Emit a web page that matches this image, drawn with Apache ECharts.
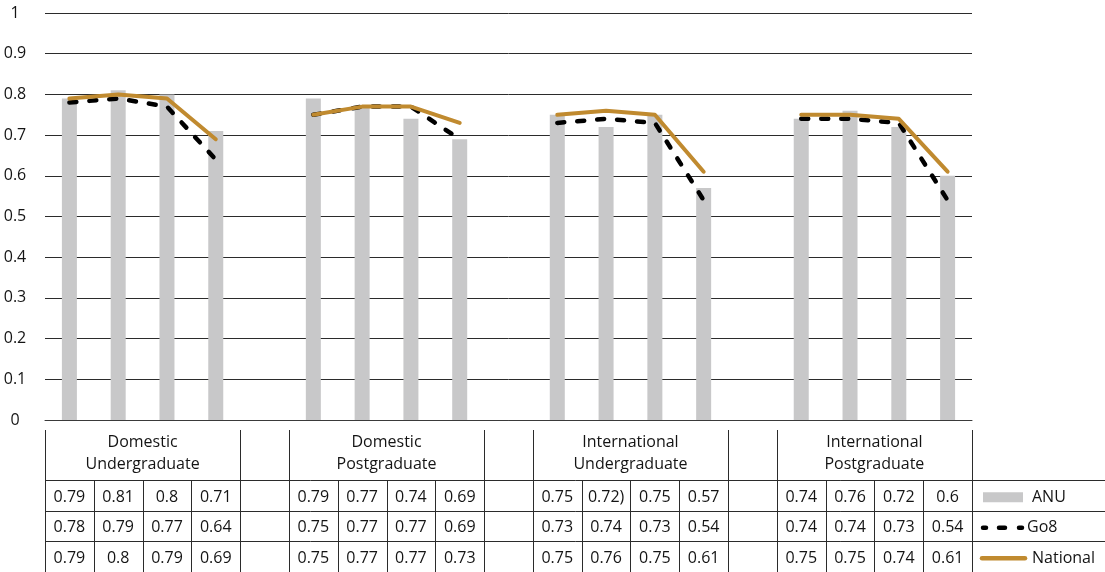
<!DOCTYPE html>
<html>
<head>
<meta charset="utf-8">
<script src="https://cdn.jsdelivr.net/npm/echarts@6/dist/echarts.min.js"></script>
<style>
  html, body { margin: 0; padding: 0; background: #ffffff; }
  #chart { width: 1105px; height: 572px; }
</style>
</head>
<body>
<div id="chart"></div>
<script>
// Student groups, each with four survey items
const groups = [
  'Domestic\nUndergraduate',
  'Domestic\nPostgraduate',
  'International\nUndergraduate',
  'International\nPostgraduate'
];
const itemsPerGroup = 4;

// Scores for each series, four per group in group order
const anu      = [0.79, 0.81, 0.8, 0.71,  0.79, 0.77, 0.74, 0.69,  0.75, 0.72, 0.75, 0.57,  0.74, 0.76, 0.72, 0.6];
const go8      = [0.78, 0.79, 0.77, 0.64, 0.75, 0.77, 0.77, 0.69,  0.73, 0.74, 0.73, 0.54,  0.74, 0.74, 0.73, 0.54];
const national = [0.79, 0.8, 0.79, 0.69,  0.75, 0.77, 0.77, 0.73,  0.75, 0.76, 0.75, 0.61,  0.75, 0.75, 0.74, 0.61];

const seriesNames = ['ANU', 'Go8', 'National'];

// Table cell text as printed in the data table (one cell carries a stray bracket)
const cellTextOverrides = { 'ANU:9': '0.72)' };

// Y axis ticks
const yMin = 0, yMax = 1, yStep = 0.1;

const FONT = '"Open Sans", "Liberation Sans", sans-serif';
const FS = 16;
const TEXT = '#141414';
const GOLD = '#C08A2F';
const BAR = '#C8C8C9';
const RULE = '#2b2b2b';

// Slots on the category axis: four items per group, with a blank spacer between groups
const slots = [];
const slotOfItem = [];
groups.forEach((g, gi) => {
  for (let k = 0; k < itemsPerGroup; k++) {
    slotOfItem.push(slots.length);
    slots.push(g + '#' + k);
  }
  if (gi < groups.length - 1) slots.push('gap' + gi);
});

function spread(values) {
  const out = slots.map(() => null);
  values.forEach((v, i) => { out[slotOfItem[i]] = v; });
  return out;
}

const chart = echarts.init(document.getElementById('chart'), null, { renderer: 'canvas' });

chart.setOption({
  animation: false,
  backgroundColor: '#ffffff',
  grid: { left: 45, right: 133, top: 13, bottom: 152, containLabel: false },
  xAxis: {
    type: 'category',
    data: slots,
    boundaryGap: true,
    axisLine: { show: true, lineStyle: { color: '#3a3a3a', width: 1 } },
    axisTick: { show: false },
    axisLabel: { show: false },
    splitLine: { show: false }
  },
  yAxis: {
    type: 'value',
    min: yMin, max: yMax, interval: yStep,
    axisLine: { show: false },
    axisTick: { show: false },
    axisLabel: {
      color: TEXT, fontFamily: FONT, fontSize: FS,
      align: 'center', margin: 30,
      formatter: v => String(Math.round(v * 10) / 10)
    },
    splitLine: { show: true, lineStyle: { color: RULE, width: 1 } }
  },
  series: [
    {
      name: 'ANU', type: 'bar', data: spread(anu), barWidth: 15,
      itemStyle: { color: BAR }, z: 2
    },
    {
      name: 'Go8', type: 'line', data: spread(go8), connectNulls: false,
      symbol: 'none',
      lineStyle: { color: '#000000', width: 4.5, type: [7, 13], cap: 'round', join: 'round' },
      z: 3
    },
    {
      name: 'National', type: 'line', data: spread(national), connectNulls: false,
      symbol: 'none',
      lineStyle: { color: GOLD, width: 4, cap: 'round', join: 'round' },
      z: 4
    }
  ]
});

// Data table under the plot, aligned to the category axis
function buildTable() {
  const cx = i => chart.convertToPixel({ xAxisIndex: 0 }, i);
  const band = cx(1) - cx(0);
  const edge = i => cx(0) - band / 2 + i * band; // left edge of slot i
  const axisY = chart.convertToPixel({ yAxisIndex: 0 }, yMin);
  const rightEdge = edge(slots.length);
  const W = chart.getWidth();

  const tableTop = Math.round(axisY) + 10;
  const headBottom = tableTop + 50;
  const rowH = 30.5;
  const rowLines = [0, 1, 2, 3].map(r => headBottom + r * rowH);

  const els = [];
  const line = (x1, y1, x2, y2) => els.push({
    type: 'line', silent: true,
    shape: { x1, y1, x2, y2 },
    style: { stroke: RULE, lineWidth: 1 }
  });
  const px = v => Math.round(v) + 0.5;

  // Horizontal rules
  rowLines.forEach(y => line(px(edge(0)), px(y), W, px(y)));

  // Group borders span the header and data rows; inner borders only the data rows
  const groupEdges = [];
  groups.forEach((g, gi) => {
    const first = slotOfItem[gi * itemsPerGroup];
    groupEdges.push(first, first + itemsPerGroup);
  });
  for (let i = 0; i <= slots.length; i++) {
    const x = px(edge(i));
    if (groupEdges.includes(i)) line(x, tableTop, x, px(rowLines[3]));
    else line(x, px(rowLines[0]), x, px(rowLines[3]));
  }

  // Group headers
  groups.forEach((g, gi) => {
    const first = slotOfItem[gi * itemsPerGroup];
    const mid = (edge(first) + edge(first + itemsPerGroup)) / 2;
    els.push({
      type: 'text', silent: true, x: mid, y: (tableTop + headBottom) / 2 - 2,
      style: {
        text: g, fill: TEXT, font: FS + 'px ' + FONT,
        align: 'center', verticalAlign: 'middle', lineHeight: 22
      }
    });
  });

  // Values
  [anu, go8, national].forEach((vals, r) => {
    const yMid = rowLines[r] + rowH / 2 + 2;
    vals.forEach((v, i) => {
      const key = seriesNames[r] + ':' + i;
      els.push({
        type: 'text', silent: true, x: cx(slotOfItem[i]), y: yMid,
        style: {
          text: cellTextOverrides[key] || String(v), fill: TEXT, font: FS + 'px ' + FONT,
          align: 'center', verticalAlign: 'middle'
        }
      });
    });
  });

  // Legend keys in the right-hand column
  const kx = rightEdge + 11;
  const keyY = r => rowLines[r] + rowH / 2 + 2;
  els.push({
    type: 'rect', silent: true,
    shape: { x: kx, y: keyY(0) - 5, width: 40, height: 10 },
    style: { fill: BAR }
  });
  els.push({
    type: 'line', silent: true,
    shape: { x1: kx, y1: keyY(1), x2: kx + 40, y2: keyY(1) },
    style: { stroke: '#000000', lineWidth: 4.5, lineCap: 'round', lineDash: [3, 13, 6, 14] }
  });
  els.push({
    type: 'line', silent: true,
    shape: { x1: kx - 1, y1: keyY(2), x2: kx + 42, y2: keyY(2) },
    style: { stroke: GOLD, lineWidth: 4.5, lineCap: 'round' }
  });
  const labelX = [kx + 49, kx + 44, kx + 49];
  seriesNames.forEach((n, r) => {
    els.push({
      type: 'text', silent: true, x: labelX[r], y: keyY(r),
      style: { text: n, fill: TEXT, font: FS + 'px ' + FONT, align: 'left', verticalAlign: 'middle' }
    });
  });

  chart.setOption({ graphic: { elements: els } });
}

buildTable();
</script>
</body>
</html>
